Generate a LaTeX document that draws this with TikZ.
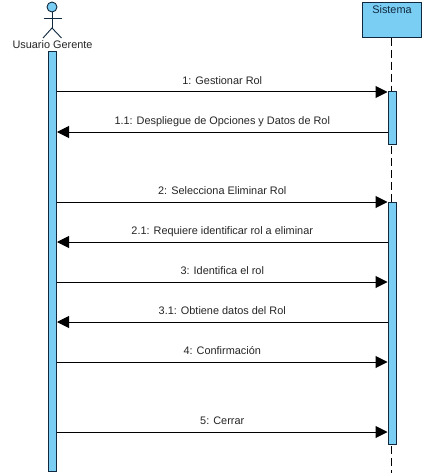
\documentclass[tikz,border=0pt]{standalone}
\usepackage{fontspec}
\setmainfont{Liberation Sans}
\usepackage{xcolor}
\usetikzlibrary{positioning,arrows.meta,backgrounds}
\definecolor{barblue}{HTML}{7ACEF4}
\definecolor{edgeblue}{HTML}{10293F}

\begin{document}
\begin{tikzpicture}[
  x=1pt, y=-1pt,
  font=\fontsize{10.9}{13}\selectfont,
  activation/.style={draw=edgeblue, line width=1pt, fill=barblue, inner sep=0pt, minimum width=8pt},
  limb/.style={draw=edgeblue, line width=0.9pt},
  msg/.style={draw=black, line width=1pt, -{Triangle[length=12pt, width=12pt]}},
  msglabel/.style={text=black!85, inner sep=0pt, text depth=0pt}
]
  \useasboundingbox (0,0) rectangle (426,476);
  \fill[white] (0,0) rectangle (426,476);

  % Actor: Usuario Gerente
  \node[circle, draw=edgeblue, line width=0.9pt, fill=barblue, inner sep=0pt, minimum size=10pt] (head) at (52,7) {};
  \coordinate (hip) at (52,28);
  \coordinate (armL) at (43.5,18);
  \coordinate (armR) at (61.5,18);
  \coordinate (footL) at (43,38);
  \coordinate (footR) at (61.5,38);
  \draw[limb] (head.south) -- (hip);
  \draw[limb] (armL) -- (armR);
  \draw[limb] (footL) -- (hip) -- (footR);
  \node[msglabel] (actorname) at (52.5,45) {Usuario Gerente};

  % Lifeline: Sistema
  \node[draw=edgeblue, line width=1pt, fill=barblue, inner sep=0pt,
        minimum width=58.5pt, minimum height=34.5pt] (sistema) at (392,20) {};
  \node[msglabel, text=edgeblue] (sistemaname) at (392,10) {Sistema};
  \coordinate (lifeend) at (391.5,473);
  \draw[black, line width=1pt, dash pattern=on 8pt off 4pt] (sistema.south -| lifeend) -- (lifeend);

  % Activation bars
  \node[activation, minimum height=419pt] (barU) at (52.5,261.5) {};
  \node[activation, minimum height=52pt] (barA) at (392,118) {};
  \node[activation, minimum height=242pt] (barB) at (392,323) {};

  % Heights of the messages
  \coordinate (m1) at (0,92);
  \coordinate (m2) at (0,132);
  \coordinate (m3) at (0,202);
  \coordinate (m4) at (0,242);
  \coordinate (m5) at (0,282);
  \coordinate (m6) at (0,322);
  \coordinate (m7) at (0,362);
  \coordinate (m8) at (0,432);

  % Messages
  \draw[msg] (barU.east |- m1) -- node[msglabel, above=7pt] (l1) {1: Gestionar Rol} (barA.west |- m1);
  \draw[msg] (barA.west |- m2) -- node[msglabel, above=7pt] (l2) {1.1: Despliegue de Opciones y Datos de Rol} (barU.east |- m2);
  \draw[msg] (barU.east |- m3) -- node[msglabel, above=7pt] (l3) {2: Selecciona Eliminar Rol} (barB.west |- m3);
  \draw[msg] (barB.west |- m4) -- node[msglabel, above=7pt] (l4) {2.1: Requiere identificar rol a eliminar} (barU.east |- m4);
  \draw[msg] (barU.east |- m5) -- node[msglabel, above=7pt] (l5) {3: Identifica el rol} (barB.west |- m5);
  \draw[msg] (barB.west |- m6) -- node[msglabel, above=7pt] (l6) {3.1: Obtiene datos del Rol} (barU.east |- m6);
  \draw[msg] (barU.east |- m7) -- node[msglabel, above=7pt] (l7) {4: Confirmación} (barB.west |- m7);
  \draw[msg] (barU.east |- m8) -- node[msglabel, above=7pt] (l8) {5: Cerrar} (barB.west |- m8);
\end{tikzpicture}
\end{document}
